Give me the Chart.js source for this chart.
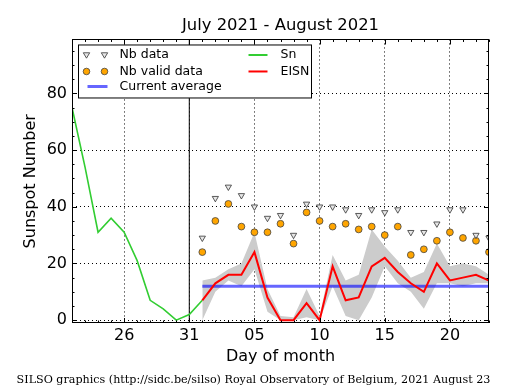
<!DOCTYPE html>
<html>
<head>
<meta charset="utf-8">
<title>Sunspot Number July 2021 - August 2021</title>
<script src="https://cdn.jsdelivr.net/npm/chart.js@4/dist/chart.umd.min.js"></script>
<style>
  html, body { margin: 0; padding: 0; background: #fff; }
  #wrap { width: 515px; height: 390px; position: relative; }
</style>
</head>
<body>
<div id="wrap"><canvas id="sunspots"></canvas></div>
<script>
// Dias mostrados: 22 de julio -> 23 de agosto (indice 0 = 22 jul)
var dayLabels = ['22', '23', '24', '25', '26', '27', '28', '29', '30', '31',
    '01', '02', '03', '04', '05', '06', '07', '08', '09', '10', '11', '12',
    '13', '14', '15', '16', '17', '18', '19', '20', '21', '22', '23'];
var xTickDays = [4, 9, 14, 19, 24, 29];
var yTickValues = [0, 20, 40, 60, 80];
var yMin = -1, yMax = 99;
var monthBoundary = 9;   // 31 de julio
var augStart = 10;       // 1 de agosto

// Sn (julio, hasta el 1 de agosto)
var snValues = [75, 54, 31, 36, 31, 21, 7, 4, 0, 2, 7];

// Agosto 1..23
var nbData = [29, 43, 47, 44, 40, 36, 37, 30, 41, 40, 40, 39, 37, 39, 38, 39, 31, 31, 34, 39, 39, 30, 29];
var nbValid = [24, 35, 41, 33, 31, 31, 34, 27, 38, 35, 33, 34, 32, 33, 30, 33, 23, 25, 28, 31, 29, 28, 24];
var eisn = [7, 13, 16, 16, 24, 8, 0, 0, 6, 0, 19, 7, 8, 19, 22, 17, 13, 10, 20, 14, 15, 16, 14];
var eisnHigh = [14, 15, 18, 20, 31, 11, 1.5, 1, 11, 1.5, 23, 14, 16, 32, 26, 21, 15, 17, 27, 19, 20, 19, 16];
var eisnLow = [0, 10, 14, 12, 18, 3, 0, 0, 1, 0, 12, 1.5, 0, 8, 19, 13, 10, 4, 13, 13, 12, 13, 13];
var currentAverage = 12;

function julyPoints(arr) {
    return arr.map(function (v, i) { return { x: i, y: v }; });
}
function augPoints(arr) {
    return arr.map(function (v, i) { return { x: augStart + i, y: v }; });
}

var lastDay = dayLabels.length - 1;
var sansFont = 'DejaVu Sans';

// Marcas internas, marco, leyenda y pie de pagina
var extras = {
    id: 'extras',
    afterDraw: function (chart) {
        var ctx = chart.ctx;
        var a = chart.chartArea;
        var xs = chart.scales.x, ys = chart.scales.y;
        ctx.save();

        // marcas del eje X (todos los lados, hacia dentro)
        ctx.strokeStyle = '#000';
        ctx.lineWidth = 1;
        ctx.beginPath();
        for (var d = 0; d <= lastDay; d++) {
            var px = Math.round(xs.getPixelForValue(d)) + 0.5;
            var len = xTickDays.indexOf(d) >= 0 ? 5 : 2.5;
            ctx.moveTo(px, a.bottom); ctx.lineTo(px, a.bottom - len);
            ctx.moveTo(px, a.top); ctx.lineTo(px, a.top + len);
        }
        for (var v = 0; v < yMax; v += 5) {
            var py = Math.round(ys.getPixelForValue(v)) + 0.5;
            var l2 = v % 20 === 0 ? 5 : 2.5;
            ctx.moveTo(a.left, py); ctx.lineTo(a.left + l2, py);
            ctx.moveTo(a.right, py); ctx.lineTo(a.right - l2, py);
        }
        ctx.stroke();

        // marco
        ctx.strokeRect(Math.round(a.left) + 0.5, Math.round(a.top) + 0.5,
            Math.round(a.right - a.left) - 1, Math.round(a.bottom - a.top) - 1);

        // leyenda
        var ds = chart.data.datasets;
        var lx = a.left + 6.5, ly = a.top + 5.5, lw = 233, lh = 53;
        ctx.fillStyle = '#fff';
        ctx.fillRect(lx, ly, lw, lh);
        ctx.strokeStyle = '#000';
        ctx.lineWidth = 1;
        ctx.strokeRect(lx, ly, lw, lh);

        var rows = [ly + 10, ly + 26.5, ly + 41.5];
        ctx.font = '12.5px "' + sansFont + '"';
        ctx.textBaseline = 'middle';
        ctx.textAlign = 'left';

        // Nb data
        [lx + 8, lx + 26].forEach(function (mx) {
            ctx.beginPath();
            ctx.moveTo(mx - 3.2, rows[0] - 2.2);
            ctx.lineTo(mx + 3.2, rows[0] - 2.2);
            ctx.lineTo(mx, rows[0] + 3.2);
            ctx.closePath();
            ctx.fillStyle = ds[0].backgroundColor;
            ctx.fill();
            ctx.strokeStyle = ds[0].borderColor;
            ctx.lineWidth = 0.8;
            ctx.stroke();
        });
        // Nb valid data
        [lx + 8, lx + 26].forEach(function (mx) {
            ctx.beginPath();
            ctx.arc(mx, rows[1], 3.3, 0, Math.PI * 2);
            ctx.fillStyle = ds[1].backgroundColor;
            ctx.fill();
            ctx.strokeStyle = ds[1].borderColor;
            ctx.lineWidth = 0.8;
            ctx.stroke();
        });
        // Current average
        ctx.beginPath();
        ctx.moveTo(lx + 9, rows[2]); ctx.lineTo(lx + 29, rows[2]);
        ctx.strokeStyle = ds[4].borderColor;
        ctx.lineWidth = ds[4].borderWidth;
        ctx.stroke();
        // Sn / EISN
        [[2, rows[0]], [3, rows[1]]].forEach(function (p) {
            ctx.beginPath();
            ctx.moveTo(lx + 170, p[1]); ctx.lineTo(lx + 189, p[1]);
            ctx.strokeStyle = ds[p[0]].borderColor;
            ctx.lineWidth = 2;
            ctx.stroke();
        });

        ctx.fillStyle = '#000';
        ctx.fillText(ds[0].label, lx + 41, rows[0]);
        ctx.fillText(ds[1].label, lx + 41, rows[1]);
        ctx.fillText(ds[4].label, lx + 41, rows[2]);
        ctx.fillText(ds[2].label, lx + 202, rows[0]);
        ctx.fillText(ds[3].label, lx + 202, rows[1]);

        // pie de pagina
        ctx.font = '11.15px "DejaVu Serif"';
        ctx.textAlign = 'center';
        ctx.fillText('SILSO graphics (http://sidc.be/silso) Royal Observatory of Belgium, 2021 August 23',
            253.5, 380);
        ctx.restore();
    }
};

var ctx1 = document.getElementById('sunspots').getContext('2d');
var myChart = new Chart(ctx1, {
    type: 'line',
    data: {
        datasets: [{
            label: 'Nb data',
            data: augPoints(nbData),
            showLine: false,
            pointStyle: 'triangle',
            rotation: 180,
            pointRadius: 3.6,
            backgroundColor: '#e6e6e6',
            borderColor: '#333',
            borderWidth: 0.8,
            order: 0
        }, {
            label: 'Nb valid data',
            data: augPoints(nbValid),
            showLine: false,
            pointStyle: 'circle',
            pointRadius: 3.4,
            backgroundColor: '#ffa500',
            borderColor: '#444',
            borderWidth: 0.8,
            order: 1
        }, {
            label: 'Sn',
            data: julyPoints(snValues),
            borderColor: '#32cd32',
            borderWidth: 1.6,
            pointRadius: 0,
            tension: 0,
            order: 3
        }, {
            label: 'EISN',
            data: augPoints(eisn),
            borderColor: '#ff0000',
            borderWidth: 2,
            pointRadius: 0,
            tension: 0,
            order: 2
        }, {
            label: 'Current average',
            data: [{ x: augStart, y: currentAverage }, { x: lastDay, y: currentAverage }],
            borderColor: 'rgba(0, 0, 255, 0.6)',
            borderWidth: 3,
            pointRadius: 0,
            order: 4
        }, {
            label: 'boundary',
            data: [{ x: monthBoundary, y: yMin }, { x: monthBoundary, y: yMax }],
            borderColor: '#000',
            borderWidth: 1,
            pointRadius: 0,
            order: 5
        }, {
            label: 'EISN high',
            data: augPoints(eisnHigh),
            borderWidth: 0,
            borderColor: 'rgba(0,0,0,0)',
            backgroundColor: 'rgb(204, 204, 204)',
            pointRadius: 0,
            fill: '+1',
            order: 6
        }, {
            label: 'EISN low',
            data: augPoints(eisnLow),
            borderWidth: 0,
            borderColor: 'rgba(0,0,0,0)',
            pointRadius: 0,
            fill: false,
            order: 7
        }]
    },
    options: {
        responsive: true,
        maintainAspectRatio: false,
        animation: false,
        layout: { padding: { top: 0, left: 0, right: 26, bottom: 17 } },
        plugins: {
            legend: { display: false },
            tooltip: { enabled: false },
            title: {
                display: true,
                text: 'July 2021 - August 2021',
                fullSize: false,
                color: '#000',
                font: { family: sansFont, size: 16.4, weight: 'normal' },
                padding: { top: 16, bottom: 3.8 }
            }
        },
        scales: {
            x: {
                type: 'linear',
                min: 0,
                max: lastDay,
                afterBuildTicks: function (scale) {
                    scale.ticks = xTickDays.map(function (d) { return { value: d }; });
                },
                afterFit: function (scale) { scale.height = 50; },
                ticks: {
                    autoSkip: false,
                    maxRotation: 0,
                    padding: 3,
                    color: '#000',
                    font: { family: sansFont, size: 16 },
                    callback: function (value) { return dayLabels[value]; }
                },
                grid: {
                    drawTicks: false,
                    color: '#000',
                    lineWidth: 1
                },
                border: { display: false, dash: [1, 3] },
                title: {
                    display: true,
                    text: 'Day of month',
                    color: '#000',
                    font: { family: sansFont, size: 16 },
                    padding: { top: 0, bottom: 6.4 }
                }
            },
            y: {
                min: yMin,
                max: yMax,
                afterBuildTicks: function (scale) {
                    scale.ticks = yTickValues.map(function (v) { return { value: v }; });
                },
                afterFit: function (scale) { scale.width = 72; },
                ticks: {
                    padding: 5,
                    color: '#000',
                    font: { family: sansFont, size: 16 }
                },
                grid: {
                    drawTicks: false,
                    color: '#000',
                    lineWidth: 1
                },
                border: { display: false, dash: [1, 3] },
                title: {
                    display: true,
                    text: 'Sunspot Number',
                    color: '#000',
                    font: { family: sansFont, size: 16 },
                    padding: { top: 21.4, bottom: 0 }
                }
            }
        }
    },
    plugins: [extras]
});
</script>
</body>
</html>
